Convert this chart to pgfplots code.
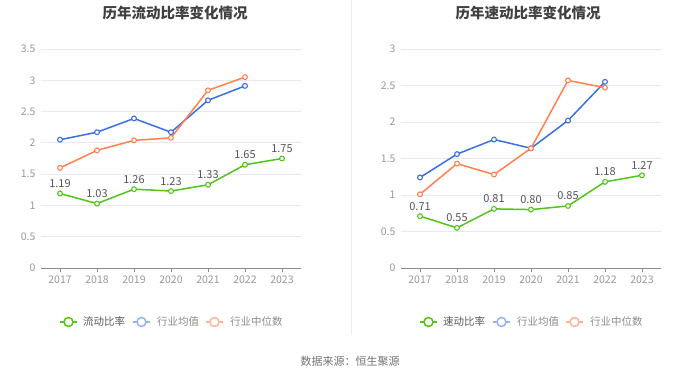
\documentclass[border=0pt]{standalone}
\usepackage{fontspec}
\setmainfont{Noto Sans CJK SC}
\usepackage{pgfplots}
\pgfplotsset{compat=1.18}
\definecolor{cgreen}{HTML}{52C41A}
\definecolor{cblue}{HTML}{3A70E2}
\definecolor{corange}{HTML}{FF8050}
\definecolor{lblue}{HTML}{93B3F2}
\definecolor{lorange}{HTML}{FFB59C}
\definecolor{gridc}{HTML}{E6E9F2}
\definecolor{tickc}{HTML}{999999}
\definecolor{axisc}{HTML}{8C8C8C}
\definecolor{labc}{HTML}{555555}
\pgfplotsset{
  base/.style={
    scale only axis, width=260pt, height=219pt,
    xmin=2016.486, xmax=2023.514, ymin=0,
    xtick={2017,...,2023},
    xticklabel style={/pgf/number format/1000 sep={}, font=\fontsize{10.5}{11}\selectfont, text=tickc},
    yticklabel style={font=\fontsize{10.5}{11}\selectfont, text=tickc},
    /pgf/number format/assume math mode=true,
    axis y line=left, axis x line=bottom,
    y axis line style={draw=none},
    x axis line style={draw=axisc, -},
    ymajorgrids, grid style={gridc, line width=0.8pt},
    major y tick style={draw=none},
    major x tick style={axisc},
    xtick align=outside, major tick length=4pt,
    xticklabel shift=0pt,
    yticklabel shift=0pt,
    clip=false,
    every axis plot/.append style={line width=1.5pt},
  },
  mk/.style={mark=*, mark size=2.4pt, mark options={draw=#1, fill=white, line width=1.1pt}},
  lbl/.style={nodes near coords, point meta=explicit symbolic,
    every node near coord/.append style={font=\fontsize{11}{12}\selectfont, text=labc, anchor=south, yshift=2pt}},
}
\begin{document}
\begin{tikzpicture}[x=1pt,y=1pt]
\path[use as bounding box] (0,0) rectangle (700,378);
\fill[white] (0,0) rectangle (700,378);
\draw[gray!15, line width=0.8pt] (351,378) -- (351,43);
\node[font=\bfseries\fontsize{14.5}{15}\selectfont, text=black!75] at (175,365) {历年流动比率变化情况};
\node[font=\bfseries\fontsize{14.5}{15}\selectfont, text=black!75] at (528,365) {历年速动比率变化情况};
\begin{axis}[base, at={(41pt,110pt)}, anchor=south west, ymax=3.5, ytick={0,0.5,...,3.5},
  yticklabels={0,0.5,1,1.5,2,2.5,3,3.5}]
\addplot[cblue, mk=cblue] coordinates {(2017,2.05)(2018,2.17)(2019,2.39)(2020,2.17)(2021,2.68)(2022,2.91)};
\addplot[corange, mk=corange] coordinates {(2017,1.60)(2018,1.88)(2019,2.04)(2020,2.08)(2021,2.84)(2022,3.05)};
\addplot[cgreen, mk=cgreen, lbl] coordinates {(2017,1.19)[1.19](2018,1.03)[1.03](2019,1.26)[1.26](2020,1.23)[1.23](2021,1.33)[1.33](2022,1.65)[1.65](2023,1.75)[1.75]};
\end{axis}
\begin{axis}[base, at={(401pt,110pt)}, anchor=south west, ymax=3, ytick={0,0.5,...,3},
  yticklabels={0,0.5,1,1.5,2,2.5,3}]
\addplot[cblue, mk=cblue] coordinates {(2017,1.24)(2018,1.56)(2019,1.76)(2020,1.64)(2021,2.02)(2022,2.55)};
\addplot[corange, mk=corange] coordinates {(2017,1.01)(2018,1.43)(2019,1.28)(2020,1.64)(2021,2.57)(2022,2.47)};
\addplot[cgreen, mk=cgreen, lbl] coordinates {(2017,0.71)[0.71](2018,0.55)[0.55](2019,0.81)[0.81](2020,0.80)[0.80](2021,0.85)[0.85](2022,1.18)[1.18](2023,1.27)[1.27]};
\end{axis}
% legends
\foreach \ox/\na in {0/流动比率, 360/速动比率} {
  \begin{scope}[xshift=\ox pt]
  \draw[cgreen, line width=1.5pt] (60,56) -- (77,56);
  \draw[cgreen, line width=1.5pt, fill=white] (68.5,56) circle (4.5);
  \node[anchor=west, font=\fontsize{10.5}{12}\selectfont, text=black!65, inner sep=0] at (83,56.5) {\na};
  \draw[lblue, line width=1.5pt] (133,56) -- (150,56);
  \draw[lblue, line width=1.5pt, fill=white] (141.5,56) circle (4.5);
  \node[anchor=west, font=\fontsize{10.5}{12}\selectfont, text=black!45, inner sep=0] at (157,56.5) {行业均值};
  \draw[lorange, line width=1.5pt] (206,56) -- (223,56);
  \draw[lorange, line width=1.5pt, fill=white] (214.5,56) circle (4.5);
  \node[anchor=west, font=\fontsize{10.5}{12}\selectfont, text=black!45, inner sep=0] at (230,56.5) {行业中位数};
  \end{scope}
}
\node[font=\fontsize{11}{12}\selectfont, text=black!55] at (350,17) {数据来源：恒生聚源};
\end{tikzpicture}
\end{document}
